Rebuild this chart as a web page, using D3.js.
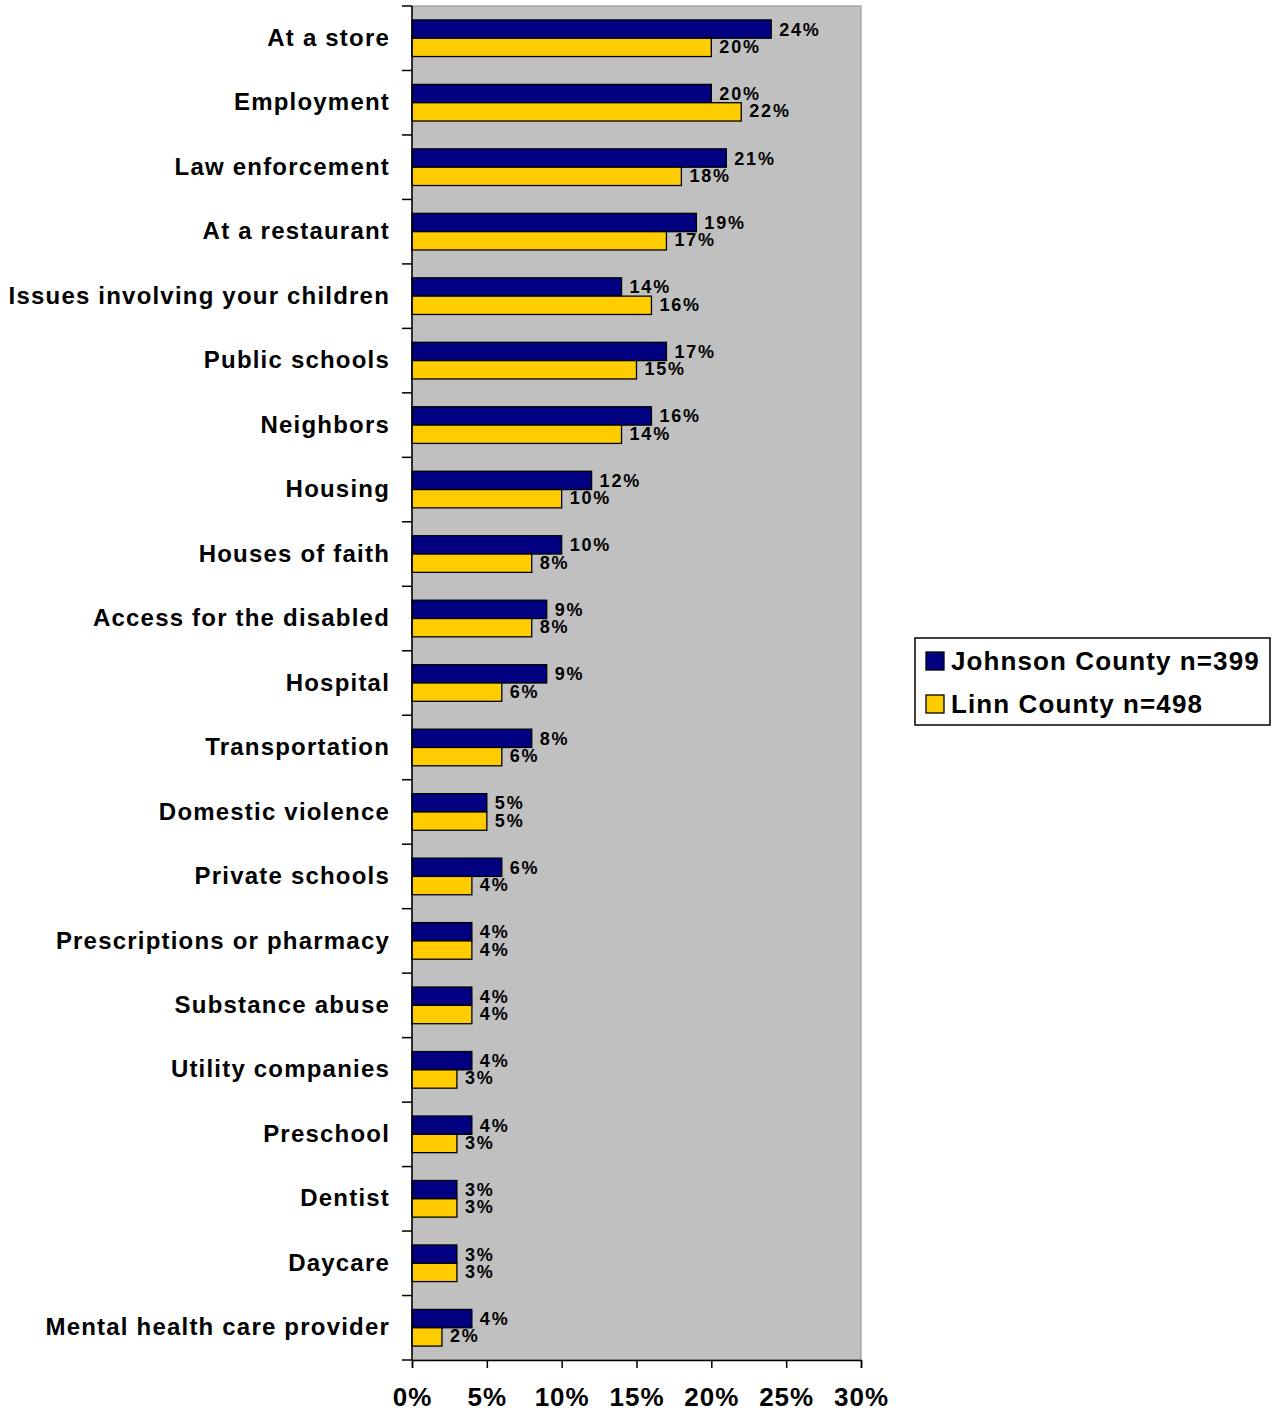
<!DOCTYPE html>
<html>
<head>
<meta charset="utf-8">
<script src="https://cdn.jsdelivr.net/npm/d3@7"></script>
<style>
  html, body { margin: 0; padding: 0; background: #ffffff; }
  svg text { font-family: "Liberation Sans", Arial, sans-serif; font-weight: bold; fill: #000; }
</style>
</head>
<body>
<svg id="chart" width="1277" height="1414"></svg>
<script>
// Places where respondents experienced discrimination, by county
const categories = [
  "At a store", "Employment", "Law enforcement", "At a restaurant",
  "Issues involving your children", "Public schools", "Neighbors", "Housing",
  "Houses of faith", "Access for the disabled", "Hospital", "Transportation",
  "Domestic violence", "Private schools", "Prescriptions or pharmacy",
  "Substance abuse", "Utility companies", "Preschool", "Dentist", "Daycare",
  "Mental health care provider"
];
const johnsonValues = [24, 20, 21, 19, 14, 17, 16, 12, 10, 9, 9, 8, 5, 6, 4, 4, 4, 4, 3, 3, 4];
const linnValues    = [20, 22, 18, 17, 16, 15, 14, 10, 8, 8, 6, 6, 5, 4, 4, 4, 3, 3, 3, 3, 2];
const seriesNames = ["Johnson County n=399", "Linn County n=498"];
const seriesColors = ["#000080", "#ffcc00"];
const xTicks = [0, 5, 10, 15, 20, 25, 30];

const svg = d3.select("#chart");
const plot = { left: 412, top: 6, right: 861, bottom: 1360 };

const x = d3.scaleLinear().domain([0, 30]).range([plot.left, plot.right]);
const y = d3.scaleBand().domain(categories).range([plot.top, plot.bottom]).paddingInner(0).paddingOuter(0);
const inner = d3.scaleBand().domain([0, 1]).range([0, y.bandwidth()]).paddingInner(0).paddingOuter(0.76);

// plot background
svg.append("rect")
  .attr("x", plot.left).attr("y", plot.top)
  .attr("width", plot.right - plot.left).attr("height", plot.bottom - plot.top)
  .attr("fill", "#c0c0c0").attr("stroke", "#9a9a9a").attr("stroke-width", 1.2);

const rows = categories.map((c, i) => ({ cat: c, vals: [johnsonValues[i], linnValues[i]] }));

const g = svg.append("g");
rows.forEach(r => {
  r.vals.forEach((v, s) => {
    const by = y(r.cat) + inner(s);
    g.append("rect")
      .attr("x", x(0)).attr("y", by)
      .attr("width", x(v) - x(0)).attr("height", inner.bandwidth())
      .attr("fill", seriesColors[s]).attr("stroke", "#000").attr("stroke-width", 1.3);
    g.append("text")
      .attr("x", x(v) + 8).attr("y", by + inner.bandwidth() / 2 - (s === 1 ? 1 : 0))
      .attr("dy", "0.36em")
      .attr("font-size", 18)
      .attr("letter-spacing", 1.8)
      .text(v + "%");
  });
});

// category axis (ticks at band boundaries)
const yAxisG = svg.append("g");
yAxisG.append("line")
  .attr("x1", plot.left).attr("x2", plot.left)
  .attr("y1", plot.top).attr("y2", plot.bottom)
  .attr("stroke", "#000").attr("stroke-width", 1.5);
const boundaries = categories.map(c => y(c)).concat([plot.bottom]);
yAxisG.selectAll("line.tick").data(boundaries).join("line")
  .attr("class", "tick")
  .attr("x1", plot.left - 10).attr("x2", plot.left)
  .attr("y1", d => d).attr("y2", d => d)
  .attr("stroke", "#000").attr("stroke-width", 1.5);
yAxisG.selectAll("text").data(categories).join("text")
  .attr("x", plot.left - 22)
  .attr("y", d => y(d) + y.bandwidth() / 2 - 1)
  .attr("dy", "0.36em")
  .attr("text-anchor", "end")
  .attr("font-size", 24)
  .attr("letter-spacing", 1.2)
  .text(d => d);

// value axis
const xAxis = d3.axisBottom(x).tickValues(xTicks).tickFormat(d => d + "%").tickSize(8).tickPadding(20);
const xAxisG = svg.append("g")
  .attr("transform", `translate(0,${plot.bottom})`)
  .call(xAxis);
xAxisG.select(".domain").attr("stroke", "#000").attr("stroke-width", 1.5);
xAxisG.selectAll(".tick line").attr("stroke", "#000").attr("stroke-width", 1.5);
xAxisG.selectAll(".tick text")
  .attr("font-size", 26)
  .attr("font-family", "Liberation Sans, Arial, sans-serif")
  .attr("font-weight", "bold")
  .attr("letter-spacing", 1)
  .attr("fill", "#000");

// legend
const legend = svg.append("g");
legend.append("rect")
  .attr("x", 915).attr("y", 638).attr("width", 355).attr("height", 87)
  .attr("fill", "#fff").attr("stroke", "#000").attr("stroke-width", 1.5);
seriesNames.forEach((name, i) => {
  const cy = 661 + i * 43;
  legend.append("rect")
    .attr("x", 926).attr("y", cy - 9).attr("width", 18).attr("height", 18)
    .attr("fill", seriesColors[i]).attr("stroke", "#000").attr("stroke-width", 1.3);
  legend.append("text")
    .attr("x", 951).attr("y", cy).attr("dy", "0.36em")
    .attr("font-size", 26)
    .attr("letter-spacing", 1.1)
    .text(name);
});
</script>
</body>
</html>
